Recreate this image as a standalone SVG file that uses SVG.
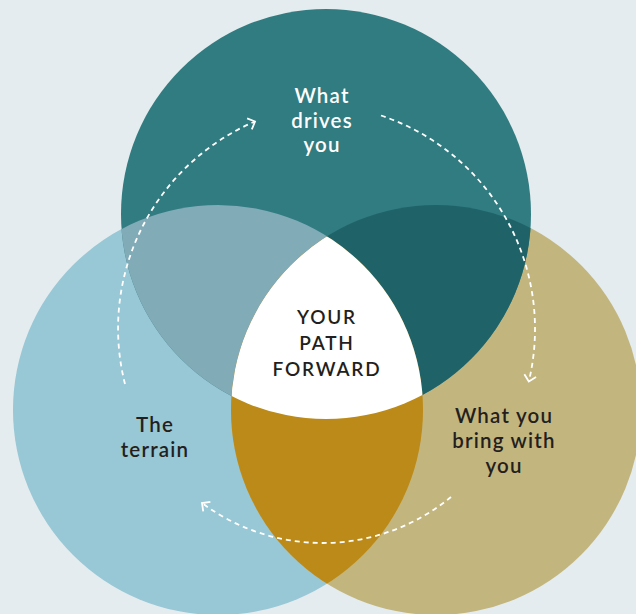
<svg xmlns="http://www.w3.org/2000/svg" width="636" height="614" viewBox="0 0 636 614">
<defs>
<style>
.lbl{font-family:Lato,"Noto Sans","Liberation Sans",sans-serif;font-size:20.5px;font-weight:600;letter-spacing:1.2px;text-anchor:middle}
.white{fill:#ffffff}
.dark{fill:#231f20}
.core{font-size:19px;font-weight:600;letter-spacing:1.8px}
.arc{fill:none;stroke:#ffffff;stroke-width:1.8;stroke-dasharray:5 4;marker-end:url(#chev)}
</style>
<marker id="chev" markerUnits="userSpaceOnUse" markerWidth="20" markerHeight="20" refX="0" refY="0" viewBox="-10 -10 20 20" orient="auto" overflow="visible">
<path d="M-6,-6 L0,0 L-6,6" fill="none" stroke="#ffffff" stroke-width="1.8"/>
</marker>
<clipPath id="cTop"><circle cx="326" cy="214" r="205"/></clipPath>
<clipPath id="cLeft"><circle cx="218" cy="410" r="205"/></clipPath>
<clipPath id="cRight"><circle cx="436" cy="410" r="205"/></clipPath>
</defs>
<rect x="0" y="0" width="636" height="614" fill="#e4ecef"/>
<g id="node-left">
<circle cx="218" cy="410" r="205" fill="#98c7d5"/>
</g>
<g id="node-right">
<circle cx="436" cy="410" r="205" fill="#c3b57e"/>
</g>
<g id="node-top">
<circle cx="326" cy="214" r="205" fill="#317c81"/>
</g>
<g id="overlaps">
<circle cx="218" cy="410" r="205" fill="#82abb8" clip-path="url(#cTop)"/>
<circle cx="436" cy="410" r="205" fill="#1f6369" clip-path="url(#cTop)"/>
<circle cx="218" cy="410" r="205" fill="#bb8a18" clip-path="url(#cRight)"/>
</g>
<g id="node-center">
<g clip-path="url(#cTop)"><circle cx="218" cy="410" r="205" fill="#ffffff" clip-path="url(#cRight)"/></g>
<text class="lbl dark core" x="327" y="324">YOUR</text>
<text class="lbl dark core" x="327" y="350">PATH</text>
<text class="lbl dark core" x="327" y="376">FORWARD</text>
</g>
<g id="connectors">
<path class="arc" d="M125,384 A225,225 0 0 1 255,121.5"/>
<path class="arc" d="M381,115.5 A225,225 0 0 1 528.8,381.5"/>
<path class="arc" d="M451,497 A202,202 0 0 1 202,503"/>
</g>
<g id="label-top">
<text class="lbl white" x="322" y="103">What</text>
<text class="lbl white" x="322" y="128">drives</text>
<text class="lbl white" x="322" y="152">you</text>
</g>
<g id="label-left">
<text class="lbl dark" x="155" y="432">The</text>
<text class="lbl dark" x="155" y="457">terrain</text>
</g>
<g id="label-right">
<text class="lbl dark" x="504" y="423">What you</text>
<text class="lbl dark" x="504" y="448">bring with</text>
<text class="lbl dark" x="504" y="473">you</text>
</g>
</svg>
